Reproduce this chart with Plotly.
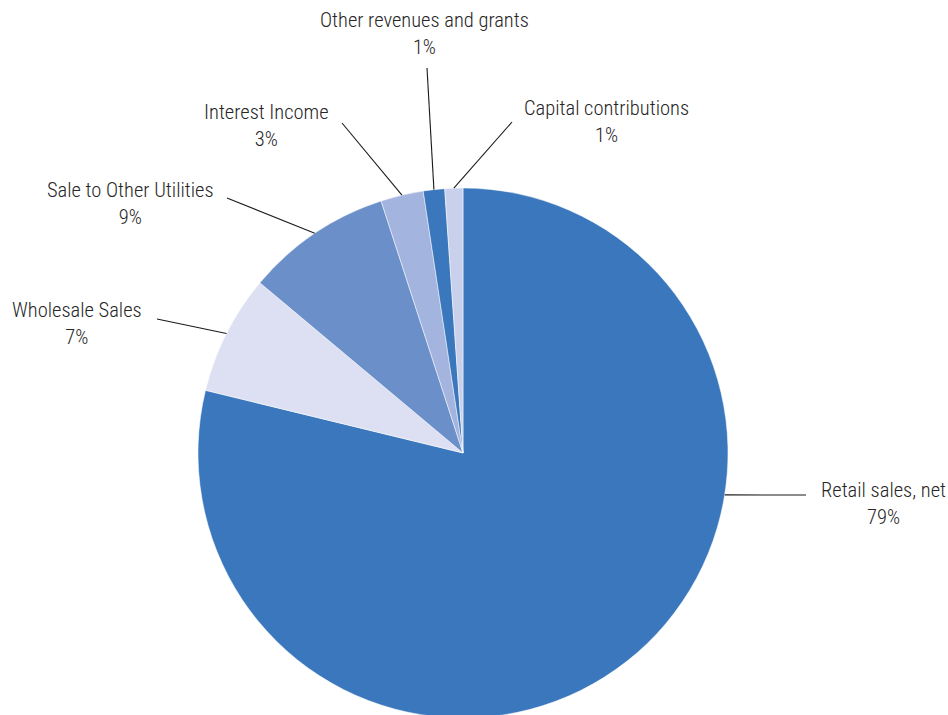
import math
import plotly.graph_objects as go

# Data
categories = ["Retail sales, net", "Wholesale Sales", "Sale to Other Utilities",
              "Interest Income", "Other revenues and grants", "Capital contributions"]
values = [78.8, 7.3, 8.9, 2.6, 1.3, 1.1]
colors = ["#3a77bc", "#dce0f2", "#6b8fc9", "#a3b4de", "#3a77bc", "#c8d0ec"]

W, H = 948, 722
CX, CY, R = 463, 453, 265  # pie centre / radius in screen px

# label placement (style): text centre x, text centre y, outer end of leader line (screen px)
label_style = {
    "Retail sales, net": dict(tx=883, ty=503, lx=806, ly=495, anchor_deg=99.1),
    "Wholesale Sales": dict(tx=77, ty=324, lx=157, ly=319),
    "Sale to Other Utilities": dict(tx=130, ty=204, lx=227, ly=198),
    "Interest Income": dict(tx=266, ty=125, lx=342, ly=123),
    "Other revenues and grants": dict(tx=424, ty=33, lx=427, ly=68),
    "Capital contributions": dict(tx=606, ty=122, lx=512, ly=122),
}

FONT = "Roboto Condensed, Liberation Sans Narrow, Arial Narrow, Liberation Sans, sans-serif"


def px(x, y):
    return x / W, 1 - y / H


dx0, dy0 = px(CX - R, CY + R)
dx1, dy1 = px(CX + R, CY - R)
fig = go.Figure(go.Pie(
    labels=categories, values=values, sort=False, direction="clockwise", rotation=0,
    marker=dict(colors=colors, line=dict(color="white", width=0.5)),
    textinfo="none", hoverinfo="label+percent", showlegend=False,
    domain=dict(x=[dx0, dx1], y=[dy0, dy1]),
))

total = sum(values)
cum = 0
for cat, v in zip(categories, values):
    mid = (cum + v / 2) / total * 360
    cum += v
    st = label_style[cat]
    ang = math.radians(st.get("anchor_deg", mid))
    ex, ey = CX + R * math.sin(ang), CY - R * math.cos(ang)
    x0, y0 = px(st["lx"], st["ly"])
    x1, y1 = px(ex, ey)
    fig.add_shape(type="line", xref="paper", yref="paper", x0=x0, y0=y0, x1=x1, y1=y1,
                  line=dict(color="#1a1a1a", width=1.1))
    pct = round(v / total * 100)
    ax, ay = px(st["tx"], st["ty"])
    fig.add_annotation(x=ax, y=ay, xref="paper", yref="paper", showarrow=False,
                       text=f"{cat}<br>{pct}%", align="center", xanchor="center", yanchor="middle",
                       font=dict(family=FONT, size=20.5, color="#262626", weight=300))

fig.update_layout(width=W, height=H, margin=dict(l=0, r=0, t=0, b=0),
                  paper_bgcolor="white", plot_bgcolor="white")
fig.write_html("out.html", config={"displayModeBar": False},
               post_script="document.body.style.margin='0';document.body.style.overflow='hidden';")
